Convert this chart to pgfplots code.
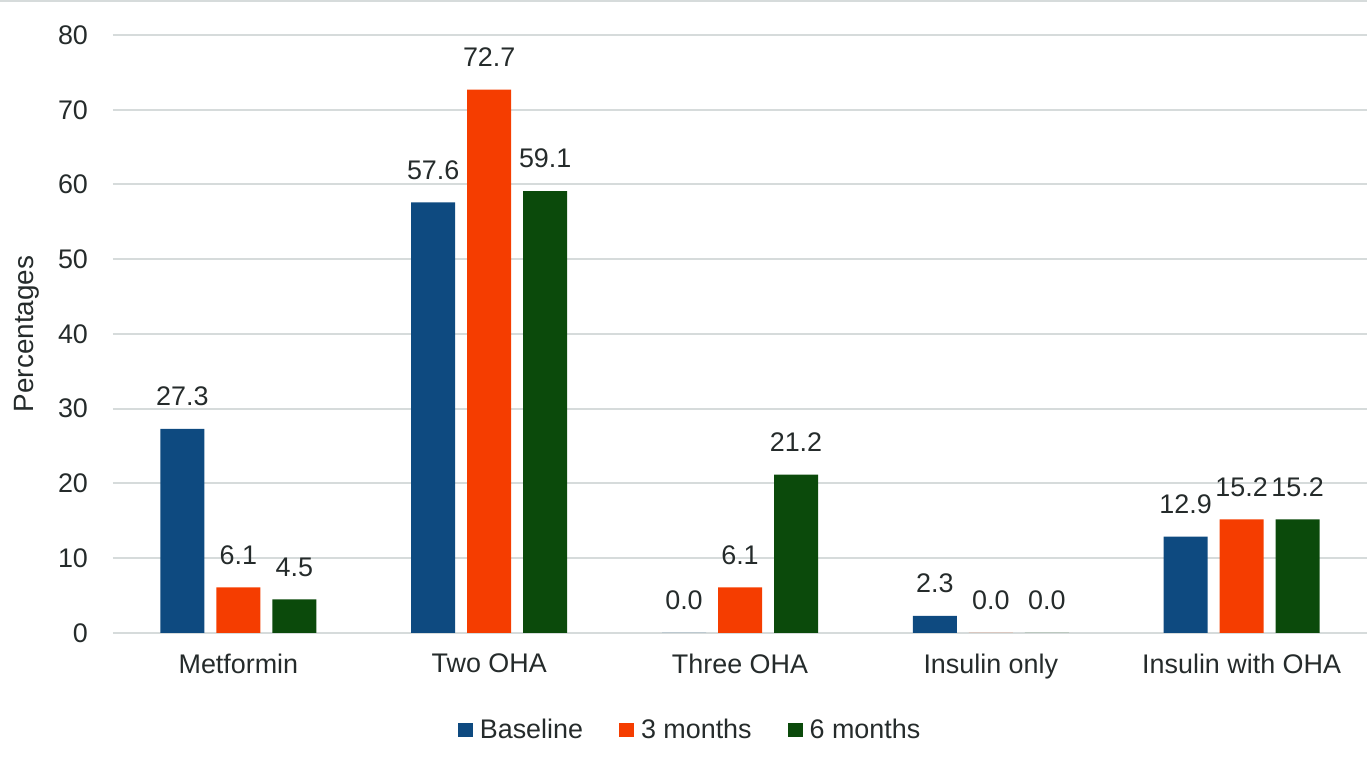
\documentclass[border=0pt]{standalone}
\usepackage{pgfplots}
\pgfplotsset{compat=1.18}
\usepackage{fontspec}
\setmainfont{Liberation Sans}

\definecolor{cBase}{HTML}{0E4A80}
\definecolor{cThree}{HTML}{F53D00}
\definecolor{cSix}{HTML}{0B4A0B}
\definecolor{txt}{HTML}{252B2B}
\definecolor{gridc}{HTML}{D6DBDB}

\begin{document}
\begin{tikzpicture}
	\begin{axis}[scale only axis,
							width=627bp,
							height=299bp,
							ymin=0, ymax=80,
							ytick={0,10,...,80},
							xmin=-0.5, xmax=4.5,
							xtick={0,1,2,3,4},
							xticklabels={Metformin,Two OHA,Three OHA,Insulin only,Insulin with OHA},
							ybar=6bp,
							bar width=22bp,
							axis line style={draw=none},
							major tick length=0pt,
							ymajorgrids,
							grid style={gridc, line width=1bp},
							tick label style={font=\fontsize{13.5}{16}\selectfont, text=txt},
							/pgf/number format/assume math mode=true,
							yticklabel style={xshift=-9bp},
							xticklabel style={yshift=-7bp},
							ylabel={Percentages},
							ylabel style={at={(axis description cs:-0.0686,0.5)}, anchor=center,
								font=\fontsize{14}{16}\selectfont, text=txt},
							nodes near coords={\pgfmathprintnumber[fixed,fixed zerofill,precision=1,assume math mode=true]{\pgfplotspointmeta}},
							every node near coord/.append style={font=\fontsize{13.5}{16}\selectfont, text=txt, yshift=8bp},
							legend columns=3,
							legend style={at={(axis description cs:0.461,0)}, anchor=center, yshift=-48.5bp,
								draw=none, fill=none, font=\fontsize{13.5}{16}\selectfont, text=txt,
								/tikz/every even column/.append style={column sep=16bp}},
							legend image code/.code={\fill[#1] (0bp,-3.5bp) rectangle (7.5bp,3.5bp); \path (9bp,0bp);},
							]
		\addplot[fill=cBase, draw=none] coordinates {(0,27.3) (1,57.6) (2,0.0) (3,2.3) (4,12.9)};
		\addlegendentry{Baseline}
		\addplot[fill=cThree, draw=none] coordinates {(0,6.1) (1,72.7) (2,6.1) (3,0.0) (4,15.2)};
		\addlegendentry{3 months}
		\addplot[fill=cSix, draw=none] coordinates {(0,4.5) (1,59.1) (2,21.2) (3,0.0) (4,15.2)};
		\addlegendentry{6 months}
	\end{axis}
	\draw[gridc, line width=1bp] ([xshift=-56.5bp,yshift=17bp]current axis.north west) -- ([yshift=17bp]current axis.north east);
	\pgfresetboundingbox
	\path ([xshift=-56.5bp,yshift=-62.5bp]current axis.south west) rectangle ([yshift=17.5bp]current axis.north east);
\end{tikzpicture}
\end{document}
